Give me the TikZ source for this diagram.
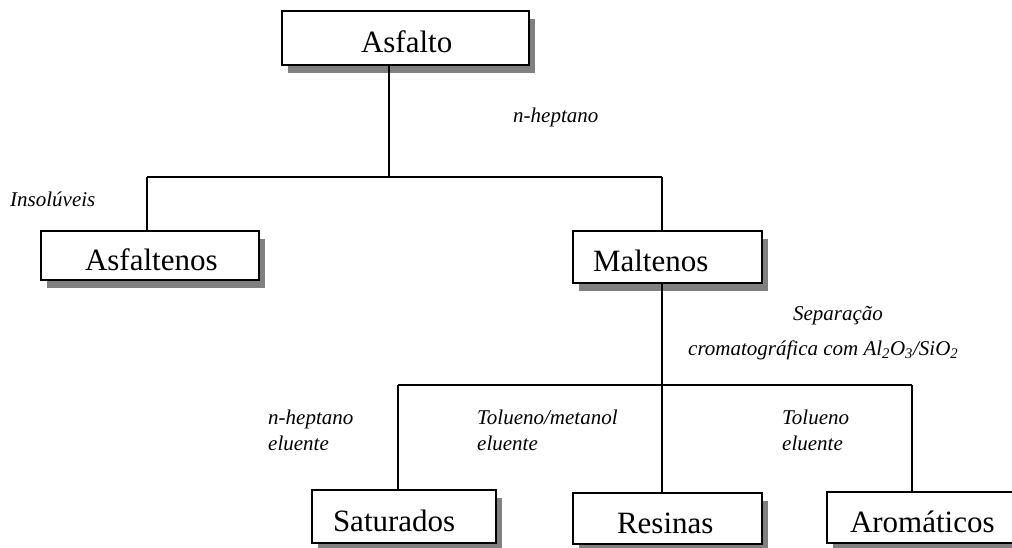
\documentclass[tikz,border=0pt]{standalone}
\usepackage{fontspec}
\setmainfont{Liberation Serif}
\usetikzlibrary{shadows}
\tikzset{
  box/.style={draw=black, line width=1.6pt, fill=white, inner sep=0pt,
    text height=30pt, text depth=0pt, align=left,
    font=\fontsize{31}{36}\selectfont,
    drop shadow={shadow xshift=6pt, shadow yshift=-8pt, fill=black!50, opacity=1}},
  lbl/.style={inner sep=0pt, anchor=base west, align=left,
    font=\fontsize{21}{26}\selectfont\itshape},
  conn/.style={line width=1.3pt},
  thick conn/.style={line width=2.2pt}
}
\begin{document}
\begin{tikzpicture}[x=1pt,y=-1pt]
\useasboundingbox (0,0) rectangle (1012,548);
% boxes
\node[box, text width=247pt, minimum height=54pt] (asf) at (405.5,38) {\hspace*{79pt}Asfalto};
\node[box, text width=218pt, minimum height=49pt] (asfn) at (150,255.5) {\hspace*{44pt}Asfaltenos};
\node[box, text width=189pt, minimum height=52pt] (malt) at (667.5,257) {\hspace*{20pt}Maltenos};
\node[box, text width=184pt, minimum height=53pt] (sat) at (404,516.5) {\hspace*{21pt}Saturados};
\node[box, text width=189pt, minimum height=51pt] (res) at (667.5,518.5) {\hspace*{44pt}Resinas};
\node[box, text width=190pt, minimum height=51pt] (aro) at (922,517.5) {\hspace*{23pt}Aromáticos};
% junctions
\coordinate (j1) at (389,177);
\coordinate (jl) at (147,177);
\coordinate (jr) at (662,177);
\coordinate (j2) at (662,410);
\coordinate (k1) at (398,385);
\coordinate (k2) at (662,385);
\coordinate (k3) at (912,385);
% connectors
\draw[line width=1.8pt] (asf.south -| j1) -- (j1);
\draw[conn] (jl) -- (jr);
\draw[conn] (jl) -- (asfn.north -| jl);
\draw[conn] (jr) -- (malt.north -| jr);
\draw[thick conn] (malt.south -| j2) -- (j2);
\draw[conn] (k1) -- (k3);
\draw[conn] (k1) -- (sat.north -| k1);
\draw[conn] (k2) -- (res.north -| k2);
\draw[conn] (k3) -- (aro.north -| k3);
% labels
\node[lbl] (l1) at (513,123) {n-heptano};
\node[lbl] (l2) at (10,207) {Insolúveis};
\node[lbl, anchor=base] (l3) at (838,320) {Separação};
\node[lbl] (l4) at (688,355) {cromatográfica com Al\textsubscript{2}O\textsubscript{3}/SiO\textsubscript{2}};
\node[lbl] (l5) at (268,450) {n-heptano\\eluente};
\node[lbl] (l6) at (477,450) {Tolueno/metanol\\eluente};
\node[lbl] (l7) at (782,450) {Tolueno\\eluente};
\end{tikzpicture}
\end{document}
